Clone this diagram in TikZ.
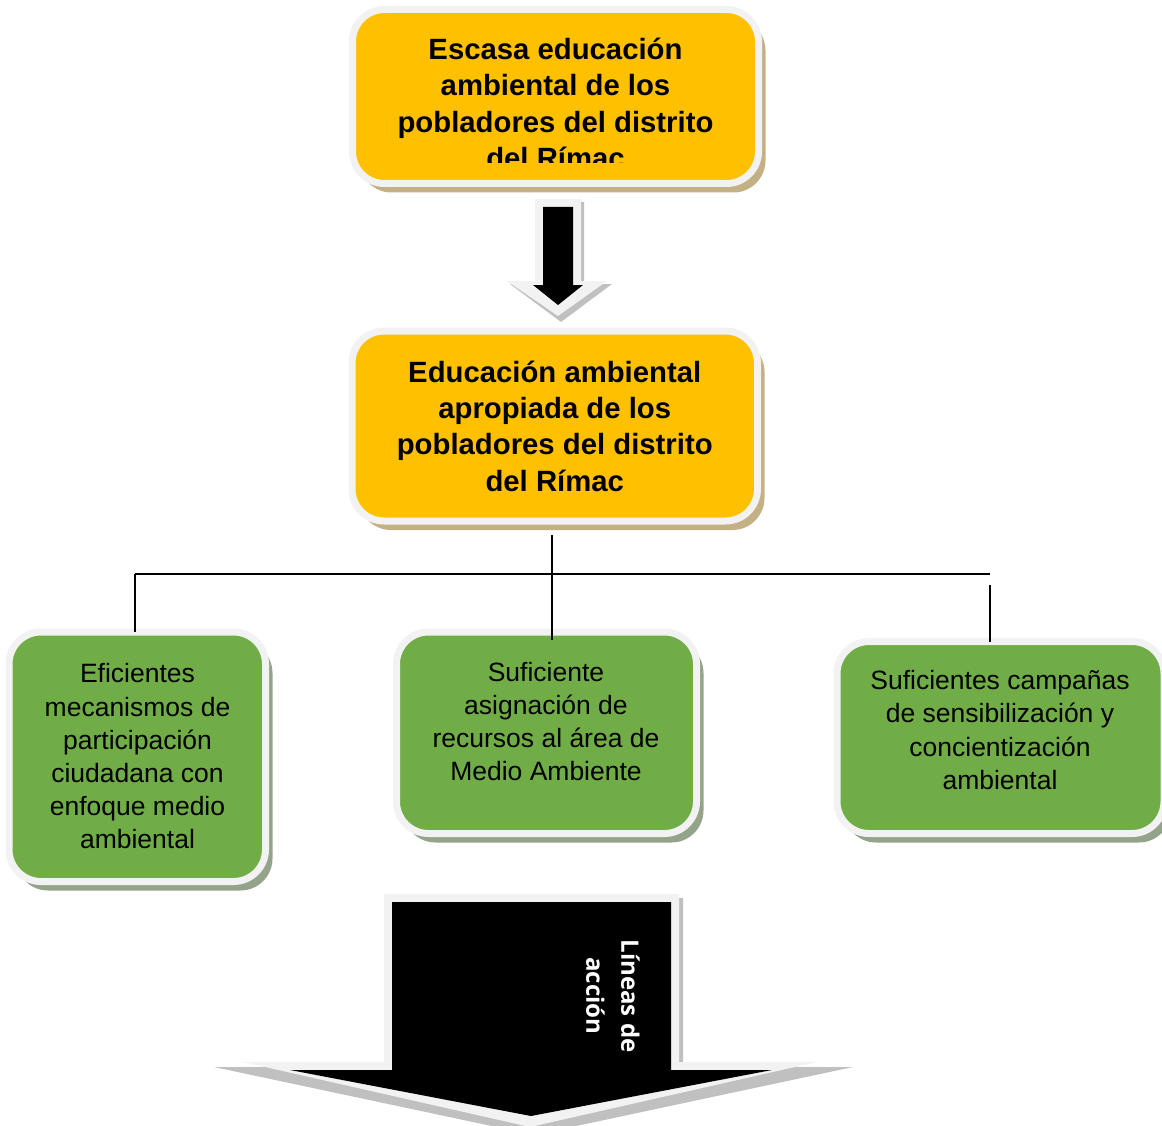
\documentclass[tikz,border=0pt]{standalone}
\usepackage{fontspec}
\setmainfont{Liberation Sans}
\newfontfamily\osans{Open Sans}
\usetikzlibrary{shadows}
\definecolor{orangeC}{HTML}{FFC000}
\definecolor{greenC}{HTML}{70AD47}
\definecolor{frameC}{HTML}{F2F2F2}
\definecolor{tanC}{HTML}{C4B085}
\definecolor{gshadC}{HTML}{94A48A}
\definecolor{ashadC}{HTML}{C0C0C0}
\begin{document}
\begin{tikzpicture}[x=1pt,y=-1pt,
  boxbase/.style={rectangle, rounded corners=32pt, draw=frameC, line width=7pt, inner sep=0pt, outer sep=0pt},
  obox/.style={boxbase, fill=orangeC, drop shadow={shadow xshift=7pt, shadow yshift=-9pt, fill=tanC, opacity=1}},
  gbox/.style={boxbase, fill=greenC, drop shadow={shadow xshift=7pt, shadow yshift=-9pt, fill=gshadC, opacity=1}},
  otext/.style={inner sep=0pt, align=center, font=\bfseries\fontsize{29.3}{36.3}\selectfont},
  gtext/.style={inner sep=0pt, align=center, font=\fontsize{26.5}{33.2}\selectfont},
  conn/.style={line width=2.2pt, draw=black}]
\useasboundingbox (0,0) rectangle (1162,1126);
\clip (0,0) rectangle (1162,1126);
% small arrow
\fill[ashadC] (538,202) -- (584,202) -- (584,284) -- (612,284) -- (561,322) -- (510,284) -- (538,284) -- cycle;
\fill[frameC] (535,199) -- (581,199) -- (581,281) -- (607,281) -- (558,316) -- (507,281) -- (535,281) -- cycle;
\fill[black] (543,207) -- (573,207) -- (573,285) -- (583,285) -- (558,305) -- (533,285) -- (543,285) -- cycle;
% big arrow
\fill[ashadC] (388,898) -- (683,898) -- (683,1067) -- (853,1067) -- (534,1135) -- (214,1067) -- (388,1067) -- cycle;
\fill[frameC] (384,894) -- (679,894) -- (679,1062) -- (817,1062) -- (530,1127) -- (243,1062) -- (384,1062) -- cycle;
\fill[black] (392,902) -- (671,902) -- (671,1070) -- (772,1070) -- (531,1116) -- (290,1070) -- (392,1070) -- cycle;
\node[text=white, rotate=-90, align=center, inner sep=0pt, font=\osans\bfseries\fontsize{24}{35}\selectfont] (t6) at (613,996) {Líneas de\\acción};
% boxes
\node[obox, minimum width=406pt, minimum height=174pt] (b1) at (555.5,96.5) {};
\node[obox, minimum width=405.5pt, minimum height=190pt] (b2) at (554.75,426) {};
\node[gbox, minimum width=256.5pt, minimum height=249.5pt] (g1) at (137.25,756.75) {};
\node[gbox, minimum width=300pt, minimum height=201.5pt] (g2) at (546.5,732.75) {};
\node[gbox, minimum width=327pt, minimum height=192pt] (g3) at (1000.5,737.5) {};
% texts
\begin{scope}
\clip (356,13) rectangle (755,163);
\node[otext] (t1) at (555.5,103.5) {Escasa educación\\ambiental de los\\pobladores del distrito\\del Rímac};
\end{scope}
\node[otext] (t2) at (554.75,426) {Educación ambiental\\apropiada de los\\pobladores del distrito\\del Rímac};
\node[gtext] (t3) at (137.5,756.5) {Eficientes\\mecanismos de\\participación\\ciudadana con\\enfoque medio\\ambiental};
\node[gtext] (t4) at (546,721.5) {Suficiente\\asignación de\\recursos al área de\\Medio Ambiente};
\node[gtext] (t5) at (1000,730) {Suficientes campañas\\de sensibilización y\\concientización\\ambiental};
% connectors
\coordinate (j1) at (552,0);
\coordinate (hl) at (135,574);
\coordinate (hr) at (990,574);
\coordinate (rv) at (990,585);
\draw[conn, shorten <=14pt, shorten >=-8pt] (b2.south -| j1) -- (j1 |- g2.north);
\draw[conn] (hl) -- (hr);
\draw[conn] (hl) -- (hl |- g1.north);
\draw[conn] (rv) -- (rv |- g3.north);
\end{tikzpicture}
\end{document}
